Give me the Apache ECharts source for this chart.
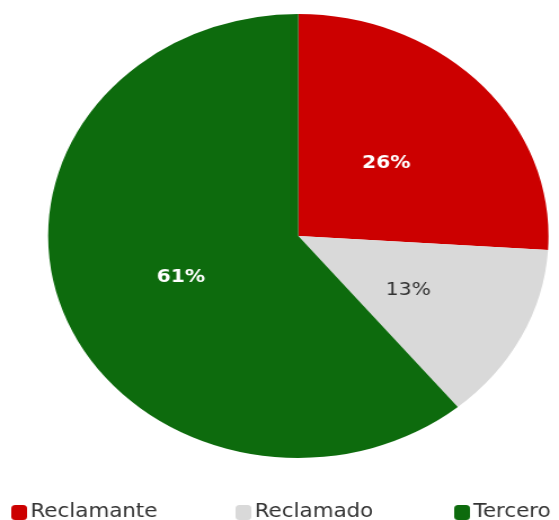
<!DOCTYPE html>
<html>
<head>
<meta charset="utf-8">
<script src="https://cdn.jsdelivr.net/npm/echarts@6/dist/echarts.min.js"></script>
<style>
html,body{margin:0;padding:0;background:#fff;overflow:hidden;}
#wrap{width:559px;height:520px;overflow:hidden;}
#chart{width:496px;height:520px;transform:scaleX(1.127);transform-origin:0 0;}
</style>
</head>
<body>
<div id="wrap"><div id="chart"></div></div>
<script>
const categories = ['Reclamante', 'Reclamado', 'Tercero'];
const values = [26, 13, 61];
const colors = ['#cc0000', '#d9d9d9', '#0d6b0d'];
const labelColors = ['#ffffff', '#333333', '#ffffff'];
const labelWeights = ['bold', 'normal', 'bold'];
const labelOffsets = [[-5, 5], [-4, 3], [3, 3]];
const legendLefts = [10, 209, 403];

const chart = echarts.init(document.getElementById('chart'), null, {renderer: 'canvas'});
const font = 'DejaVu Sans';
chart.setOption({
  animation: false,
  legend: categories.map((c, i) => ({
    data: [c],
    left: legendLefts[i],
    top: 503,
    icon: 'roundRect',
    itemWidth: 14,
    itemHeight: 15,
    padding: 0,
    textStyle: {fontFamily: font, fontSize: 19, color: '#333', padding: [0, 0, 0, -2]}
  })),
  series: [{
    type: 'pie',
    center: [264.7, 236],
    radius: 222,
    startAngle: 90,
    clockwise: true,
    silent: true,
    itemStyle: {borderWidth: 0},
    label: {
      position: 'inside',
      formatter: '{d}%',
      fontFamily: font,
      fontSize: 18
    },
    labelLine: {show: false},
    data: categories.map((c, i) => ({
      name: c,
      value: values[i],
      itemStyle: {color: colors[i]},
      label: {color: labelColors[i], fontWeight: labelWeights[i], offset: labelOffsets[i]}
    }))
  }]
});
</script>
</body>
</html>
